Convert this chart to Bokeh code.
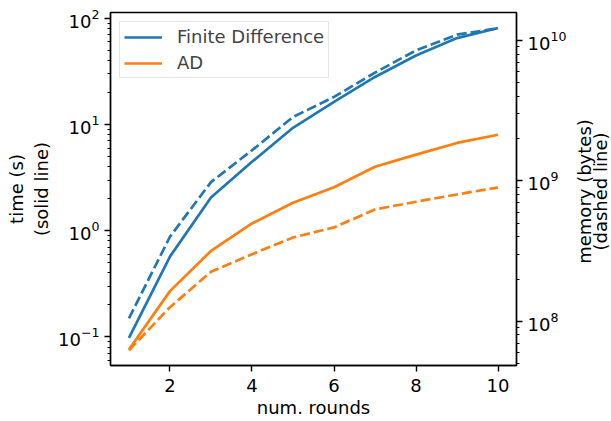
import math
from bokeh.plotting import figure
from bokeh.layouts import row
from bokeh.models import (Range1d, LogAxis, LogScale, LogTicker, FixedTicker,
                          Legend, LegendItem, Label)
from bokeh.embed import file_html
from bokeh.resources import INLINE

# ---- data ----
rounds = [1, 2, 3, 4, 5, 6, 7, 8, 9, 10]
fd_time = [0.098, 0.57, 2.05, 4.45, 9.3, 16.3, 28.0, 44.6, 65.0, 81.0]
ad_time = [0.076, 0.27, 0.645, 1.17, 1.83, 2.56, 4.0, 5.2, 6.7, 8.0]
fd_mem = [1.05e8, 4.0e8, 9.8e8, 1.65e9, 2.85e9, 3.96e9, 5.9e9, 8.5e9, 1.1e10, 1.22e10]
ad_mem = [6.2e7, 1.26e8, 2.25e8, 3.0e8, 3.95e8, 4.66e8, 6.26e8, 7.1e8, 8.0e8, 8.97e8]
series_names = ["Finite Difference", "AD"]
x_ticks = [2, 4, 6, 8, 10]
x_label = "num. rounds"
y_label = "time (s)\n(solid line)"
y2_label_lines = ["memory (bytes)", "(dashed line)"]

BLUE = "#1f77b4"
ORANGE = "#ff7f0e"
FONT = "DejaVu Sans"
FS = "18px"
FW, FH = 406, 353
RB = 55          # right border of the main figure (holds the memory tick labels)
SIDE_W, SIDE_H = 40, 400

p = figure(frame_width=FW, frame_height=FH,
           x_range=Range1d(0.55, 10.45),
           y_range=Range1d(10 ** -1.269, 10 ** 2.054),
           y_axis_type="log",
           output_backend="svg", toolbar_location=None,
           min_border_left=110, min_border_top=12,
           min_border_bottom=50, min_border_right=RB,
           background_fill_color="white", border_fill_color="white")

p.extra_y_ranges = {"mem": Range1d(10 ** 7.685, 10 ** 10.199)}
p.extra_y_scales = {"mem": LogScale()}
raxis = LogAxis(y_range_name="mem", ticker=LogTicker(num_minor_ticks=10))
p.add_layout(raxis, "right")

p.xaxis.ticker = FixedTicker(ticks=x_ticks, minor_ticks=[])
p.xaxis.axis_label = x_label
p.yaxis[0].axis_label = y_label

for ax in p.xaxis + p.yaxis:
    ax.axis_line_width = 1.4
    ax.axis_line_color = "black"
    ax.major_tick_line_width = 1.4
    ax.minor_tick_line_width = 1.0
    ax.major_tick_out = 6
    ax.major_tick_in = 0
    ax.minor_tick_out = 3
    ax.minor_tick_in = 0
    ax.major_label_text_font = FONT
    ax.major_label_text_font_size = FS
    ax.major_label_text_color = "black"
    ax.axis_label_text_font = FONT
    ax.axis_label_text_font_size = FS
    ax.axis_label_text_font_style = "normal"
    ax.axis_label_text_color = "black"
    ax.major_label_standoff = 5
    ax.axis_label_standoff = 3

p.xaxis.major_label_standoff = 7
p.xaxis.axis_label_standoff = 2

p.xgrid.grid_line_color = None
p.ygrid.grid_line_color = None
p.outline_line_color = "black"
p.outline_line_width = 1.4

r_fd = p.line(rounds, fd_time, color=BLUE, line_width=2.7)
r_ad = p.line(rounds, ad_time, color=ORANGE, line_width=2.7)
p.line(rounds, fd_mem, color=BLUE, line_width=2.7, line_dash="10 4",
       y_range_name="mem")
p.line(rounds, ad_mem, color=ORANGE, line_width=2.7, line_dash="10 4",
       y_range_name="mem")

legend = Legend(items=[LegendItem(label=series_names[0], renderers=[r_fd]),
                       LegendItem(label=series_names[1], renderers=[r_ad])],
                location="top_left")
legend.margin = 9
legend.padding = 4
legend.spacing = 5
legend.glyph_width = 38
legend.glyph_height = 20
legend.label_height = 20
legend.label_standoff = 15
legend.label_text_font = FONT
legend.label_text_font_size = FS
legend.border_line_color = "#cccccc"
legend.border_line_width = 1.4
legend.background_fill_alpha = 0.8
p.add_layout(legend)

# narrow side strip carrying the right-hand axis title (reads bottom-to-top);
# its frame is aligned with the main frame by the row layout
side = figure(width=SIDE_W, height=SIDE_H,
              x_range=Range1d(0, SIDE_W), y_range=Range1d(0, SIDE_H),
              x_axis_location=None, y_axis_location=None,
              output_backend="svg", toolbar_location=None, min_border=0,
              background_fill_color="white", border_fill_color="white")
side.outline_line_color = None
side.xgrid.visible = False
side.ygrid.visible = False
for i, txt in enumerate(y2_label_lines):
    side.add_layout(Label(x=12.5 + 16.5 * i, y=185, text=txt,
                          angle=math.pi / 2, text_align="center",
                          text_baseline="middle", text_font=FONT,
                          text_font_size=FS, text_color="black"))

layout = row(p, side, spacing=0)
open("out.html", "w").write(file_html(layout, INLINE))
